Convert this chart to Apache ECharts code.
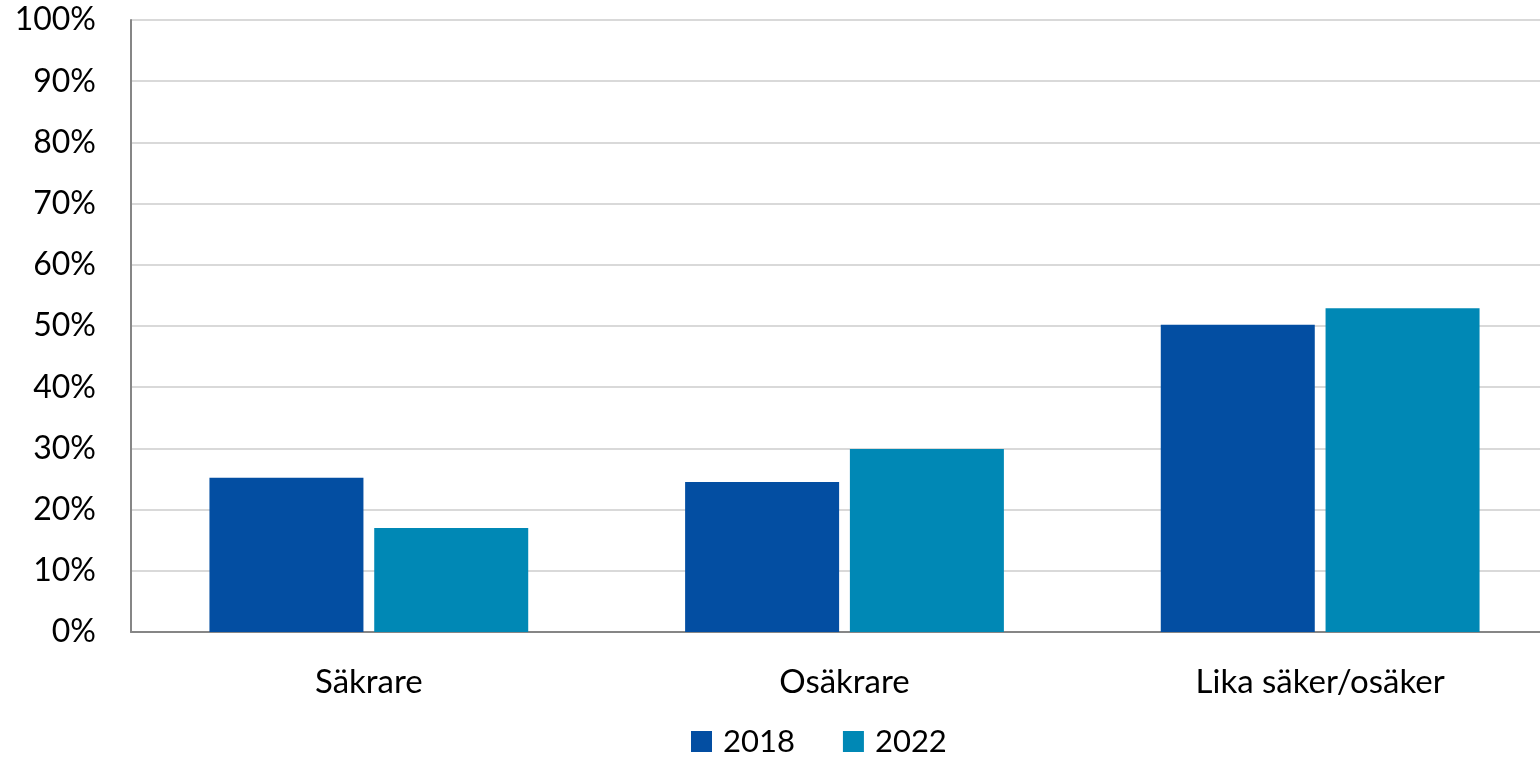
<!DOCTYPE html>
<html>
<head>
<meta charset="utf-8">
<script src="https://cdn.jsdelivr.net/npm/echarts@6/dist/echarts.min.js"></script>
<style>
html, body { margin: 0; padding: 0; background: #fff; overflow: hidden; }
#chart { width: 1558px; height: 757px; }
</style>
</head>
<body>
<div id="chart"></div>
<script>
var categories = ['Säkrare', 'Osäkrare', 'Lika säker/osäker'];
var values2018 = [25.2, 24.5, 50.2];
var values2022 = [17.0, 29.9, 52.9];
var yTicks = [0, 10, 20, 30, 40, 50, 60, 70, 80, 90, 100];

var dom = document.getElementById('chart');
var myChart = echarts.init(dom, null, { renderer: 'canvas' });
var fontFam = 'Lato, "Open Sans", sans-serif';

// the plot area runs a little past the right edge of the picture
var option = {
    animation: false,
    grid: { left: 131, right: 0, top: 20, bottom: 125, containLabel: false },
    legend: {
        top: 721,
        left: 686,
        itemWidth: 21,
        itemHeight: 21,
        itemGap: 48,
        icon: 'rect',
        textStyle: { fontFamily: fontFam, fontSize: 31, color: '#000', padding: [0, 0, 0, 6] },
        data: ['2018', '2022']
    },
    xAxis: {
        type: 'category',
        data: categories,
        axisTick: { show: false },
        axisLine: { lineStyle: { color: '#868686', width: 2 } },
        axisLabel: { fontFamily: fontFam, fontSize: 33, color: '#000', margin: 34 }
    },
    yAxis: {
        type: 'value',
        min: yTicks[0],
        max: yTicks[yTicks.length - 1],
        interval: 10,
        axisLine: { show: true, lineStyle: { color: '#868686', width: 2 } },
        axisTick: { show: false },
        splitLine: { lineStyle: { color: '#d9d9d9', width: 2 } },
        axisLabel: {
            fontFamily: fontFam, fontSize: 32, color: '#000', margin: 35,
            formatter: function (v) { return v + '%'; }
        }
    },
    series: [
        {
            name: '2018', type: 'bar', data: values2018,
            barWidth: 154, barGap: '7%',
            itemStyle: { color: '#034ea2' }
        },
        {
            name: '2022', type: 'bar', data: values2022,
            barWidth: 154,
            itemStyle: { color: '#0088b5' }
        }
    ]
};

myChart.setOption(option);
window.addEventListener('resize', myChart.resize);
</script>
</body>
</html>
